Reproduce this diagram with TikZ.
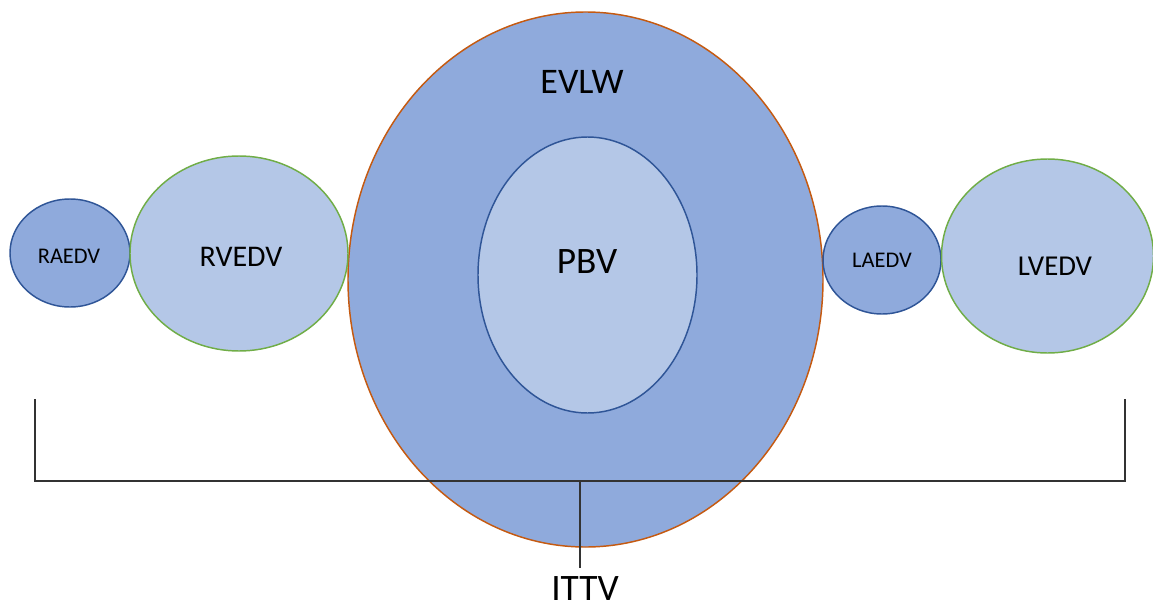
\documentclass[tikz,border=0pt]{standalone}
\usepackage{fontspec}
\setmainfont{Carlito}
\usepackage{tikz}

\definecolor{darkfill}{HTML}{8FAADC}
\definecolor{lightfill}{HTML}{B4C7E7}
\definecolor{rimblue}{HTML}{2F5597}
\definecolor{rimgreen}{HTML}{70AD47}
\definecolor{rimorange}{HTML}{C55A11}

\tikzset{
    atrium/.style={fill=darkfill, draw=rimblue, line width=1.1pt},
    ventricle/.style={fill=lightfill, draw=rimgreen, line width=1.1pt},
    bracketline/.style={draw=black!80, line width=0.8pt}
}

\begin{document}
\begin{tikzpicture}[x=0.75pt, y=-0.75pt]
            \useasboundingbox (0,0) rectangle (1153,610);
            \filldraw[fill=darkfill, draw=rimorange, line width=1.1pt] (585.5,279.5) ellipse (237.5 and 267.5);
            \filldraw[fill=lightfill, draw=rimblue, line width=1.1pt] (587.5,275) ellipse (109.5 and 138);
            \filldraw[atrium] (70,253) ellipse (60 and 54);
            \filldraw[ventricle] (239,253.5) ellipse (109 and 97.5);
            \filldraw[atrium] (882,260) ellipse (59 and 54);
            \filldraw[ventricle] (1047.5,256) ellipse (106 and 97);
            \node (evlw) at (582,82) {\fontsize{27pt}{30pt}\selectfont EVLW};
            \node (pbv) at (587,262) {\fontsize{28pt}{31pt}\selectfont PBV};
            \node (raedv) at (69,256.5) {\fontsize{16.8pt}{19pt}\selectfont RAEDV};
            \node (rvedv) at (241,256.5) {\fontsize{22.5pt}{25pt}\selectfont RVEDV};
            \node (laedv) at (882,260) {\fontsize{16.8pt}{19pt}\selectfont LAEDV};
            \node (lvedv) at (1055,266) {\fontsize{21.6pt}{24pt}\selectfont LVEDV};
            \node[inner sep=0pt] (ittv) at (585,589) {\fontsize{28pt}{31pt}\selectfont ITTV};
            \coordinate (leftend) at (35,399);
            \coordinate (rightend) at (1125,399);
            \coordinate (midpoint) at (580,481);
            \coordinate (stemend) at (580,568);
            \draw[bracketline] (leftend) |- (midpoint) -| (rightend);
            \draw[bracketline] (midpoint) -- (stemend);
        \end{tikzpicture}
\end{document}
